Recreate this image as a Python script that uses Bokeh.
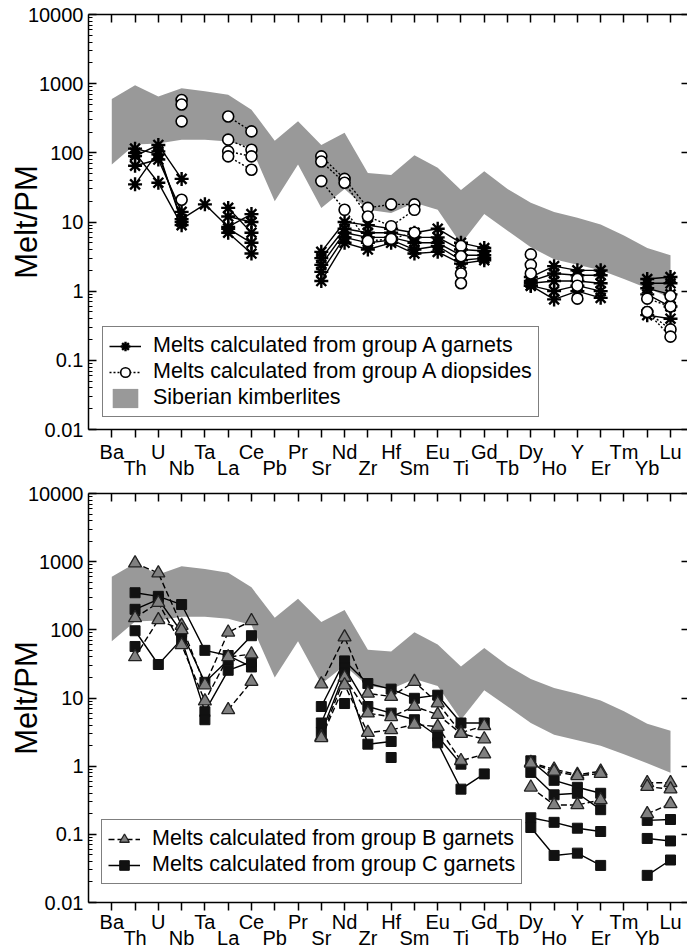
import math
from bokeh.plotting import figure
from bokeh.layouts import column
from bokeh.models import (Range1d, FixedTicker, LogAxis, LinearAxis, Legend,
                          LegendItem)
from bokeh.embed import file_html
from bokeh.resources import INLINE

N = float("nan")

elements = ["Ba", "Th", "U", "Nb", "Ta", "La", "Ce", "Pb", "Pr", "Sr", "Nd", "Zr",
            "Hf", "Sm", "Eu", "Ti", "Gd", "Tb", "Dy", "Ho", "Y", "Er", "Tm", "Yb", "Lu"]

# Siberian kimberlite field (upper / lower envelope)
kimb_upper = [600, 950, 650, 860, 780, 690, 420, 150, 285, 130, 195, 51, 48, 92, 61,
              29, 54, 30, 19, 14, 11.5, 9.2, 6.4, 4.2, 3.3]
kimb_lower = [68, 132, 137, 155, 155, 146, 118, 20, 68, 16, 30, 15, 13.5, 19, 15,
              4.8, 13, 7.5, 4.3, 2.9, 2.4, 2.0, 1.5, 1.1, 0.8]

# Top panel: melts from group A garnets
garnet_A1 = [N, 115, 95, 11, 18, 8.5, 13, N, N, 3.7, 10, 9, 8, 7, 8, 5, 4.2, N, 1.6, 2.3, 2.0, 2.0, N, 1.5, 1.6]
garnet_A2 = [N, 90, 130, 42, N, 12, 10, N, N, 3.0, 8, 7, 7, 6, 6, 4, 3.8, N, 1.4, 1.8, 1.7, 1.7, N, 1.3, 1.3]
garnet_A3 = [N, 65, 80, 14, N, 16, 7, N, N, 2.4, 7, 6, 6, 5, 5, 3.3, 3.3, N, 1.3, 1.4, 1.4, 1.3, N, 1.1, 0.9]
garnet_A4 = [N, 35, 105, 10, N, 8, 5, N, N, 1.9, 6, 5, 5.5, 4, 4.5, 2.8, 3.0, N, 1.2, 1.0, 1.2, 1.0, N, 0.9, 0.6]
garnet_A5 = [N, 100, 37, 9, N, 7, 3.5, N, N, 1.4, 5, 4, 5, 3.5, 3.7, 2.5, 2.8, N, 1.2, 0.76, 1.0, 0.8, N, 0.45, 0.4]

# Top panel: melts from group A diopsides
diop_A1 = [N, N, N, 580, N, 335, 204, N, N, 89, 42, 16, 18, 18, N, 4.5, N, N, 3.4, N, 1.5, N, N, 0.78, 0.6]
diop_A2 = [N, N, N, 500, N, 155, 111, N, N, 75, 37, 12, 8.7, 15, N, 3.2, N, N, 2.4, N, 1.2, N, N, 0.5, 0.28]
diop_A3 = [N, N, N, 285, N, 105, 89, N, N, 39, 15, 5.3, 5.7, 7, N, 1.8, N, N, 1.8, N, 0.78, N, N, 0.5, 0.22]
diop_A4 = [N, N, N, 21, N, 89, 57, N, N, N, N, N, N, N, N, 1.3, N, N, N, N, N, N, N, N, 0.85]

# Bottom panel: melts from group B garnets
garnet_B1 = [N, 950, 680, 115, 15.5, 92, 135, N, N, 16, 78, 11.7, 10.5, 17.4, 8.4, 3.1, 3.9, N, 1.13, 0.9, 0.75, 0.84, N, 0.57, 0.57]
garnet_B2 = [N, 150, 250, 60, 9, 40, 44, N, N, 2.7, 20, 6, 5.3, 7.5, 5.7, 3.0, 2.5, N, 1.1, 0.84, 0.72, 0.78, N, 0.5, 0.46]
garnet_B3 = [N, 40, 140, 100, N, 6.7, 17.4, N, N, 2.6, 15.5, 3.1, 3.4, 4.1, 3.8, 1.2, 1.5, N, 0.49, 0.27, 0.27, 0.32, N, 0.2, 0.28]

# Bottom panel: melts from group C garnets
garnet_C1 = [N, 350, 310, 235, 50, 42, 28.5, N, N, 7.5, 35, 16.3, 13.5, 9.9, 11, 4.3, 4.3, N, 1.2, 0.62, 0.49, 0.4, N, 0.16, 0.165]
garnet_C2 = [N, 200, 280, 93, 17, 36, 82, N, N, 4.3, 28, 7.5, 6, 4.8, 2.75, 1.07, N, N, 0.81, 0.38, 0.4, 0.23, N, N, N]
garnet_C3 = [N, 97, 31, 73, 6.3, 25.5, 34, N, N, 3.1, 23, 2.1, 2.3, N, 2.2, 0.46, 0.77, N, N, N, N, N, N, N, N]
garnet_C4 = [N, 57, N, N, 4.8, N, N, N, N, N, 8.3, N, 1.34, N, N, N, N, N, 0.175, 0.15, 0.123, 0.11, N, 0.087, 0.08]
garnet_C5 = [N, N, N, N, N, N, N, N, N, N, N, N, N, N, N, N, N, N, 0.126, 0.049, 0.053, 0.035, N, 0.025, 0.042]

decades = [0.01, 0.1, 1, 10, 100, 1000, 10000]
decade_labels = ["0.01", "0.1", "1", "10", "100", "1000", "10000"]

FONT = "Liberation Sans"
x_idx = list(range(len(elements)))
minor = [m * d for d in decades[:-1] for m in range(2, 10)]
x_labels = {i: (e if i % 2 == 0 else "\n" + e) for i, e in enumerate(elements)}


def make_panel(height, top_border, bottom_border, x_standoff):
    p = figure(width=687, height=height, y_axis_type="log",
               x_range=Range1d(-1, 24.73), y_range=Range1d(0.01, 10000),
               output_backend="svg", toolbar_location=None,
               min_border_left=88, min_border_right=0,
               min_border_top=top_border, min_border_bottom=bottom_border)
    p.outline_line_color = None
    p.grid.visible = False
    p.background_fill_color = "white"

    xa = p.xaxis[0]
    xa.ticker = FixedTicker(ticks=x_idx)
    xa.major_label_overrides = x_labels
    xa.major_tick_in = 0
    xa.major_tick_out = 8
    xa.minor_tick_line_color = None
    xa.major_label_standoff = x_standoff
    xa.major_label_text_font = FONT
    xa.major_label_text_font_size = "20px"
    xa.major_label_text_color = "black"
    xa.major_label_text_line_height = 0.76
    xa.axis_line_width = 1.5
    xa.major_tick_line_width = 1.5

    ya = p.yaxis[0]
    ya.ticker = FixedTicker(ticks=decades, minor_ticks=minor)
    ya.major_label_overrides = dict(zip(decades, decade_labels))
    ya.major_tick_in = 8
    ya.major_tick_out = 0
    ya.minor_tick_in = 4
    ya.minor_tick_out = 0
    ya.major_label_standoff = 5
    ya.major_label_text_font = FONT
    ya.major_label_text_font_size = "20px"
    ya.major_label_text_color = "black"
    ya.axis_label = "Melt/PM"
    ya.axis_label_text_font = FONT
    ya.axis_label_text_font_size = "31px"
    ya.axis_label_text_font_style = "normal"
    ya.axis_label_text_color = "black"
    ya.axis_label_standoff = -19
    ya.axis_line_width = 1.5
    ya.major_tick_line_width = 1.5
    ya.minor_tick_line_width = 1.2

    top = LinearAxis(ticker=FixedTicker(ticks=x_idx), major_label_text_font_size="1px",
                     major_label_text_color=None,
                     major_label_standoff=0, major_tick_in=8, major_tick_out=0,
                     minor_tick_line_color=None, axis_line_width=1.5,
                     major_tick_line_width=1.5)
    p.add_layout(top, "above")
    right = LogAxis(ticker=FixedTicker(ticks=decades), major_label_text_font_size="1px",
                    major_label_text_color=None,
                    major_label_standoff=0, major_tick_in=6, major_tick_out=0,
                    minor_tick_line_color=None, axis_line_color=None,
                    major_tick_line_width=1.5)
    p.add_layout(right, "right")

    p.varea(x=x_idx, y1=kimb_lower, y2=kimb_upper, fill_color="#999999")
    return p


def style_legend(p, items, loc):
    leg = Legend(items=items, location=loc)
    leg.border_line_color = "black"
    leg.border_line_width = 1.5
    leg.background_fill_color = "white"
    leg.background_fill_alpha = 1.0
    leg.label_text_font = FONT
    leg.label_text_font_size = "21.5px"
    leg.label_text_color = "black"
    leg.glyph_width = 32
    leg.glyph_height = 24
    leg.label_height = 24
    leg.padding = 6
    leg.spacing = 1
    leg.label_standoff = 12
    leg.margin = 0
    p.add_layout(leg)


# ---------------- top panel ----------------
p1 = make_panel(482, 14, 52, 3)
band1 = p1.renderers[-1]

g_lines, g_marks = [], []
for s in [garnet_A1, garnet_A2, garnet_A3, garnet_A4, garnet_A5]:
    g_lines.append(p1.line(x_idx, s, line_color="black", line_width=1.4))
d_lines = []
for s in [diop_A1, diop_A2, diop_A3, diop_A4]:
    d_lines.append(p1.line(x_idx, s, line_color="black", line_width=1.4, line_dash="2 2"))
for s in [garnet_A1, garnet_A2, garnet_A3, garnet_A4, garnet_A5]:
    g_marks.append(p1.scatter(x_idx, s, marker="asterisk", size=14, line_color="black",
                              line_width=2.4))
d_marks = []
for s in [diop_A1, diop_A2, diop_A3, diop_A4]:
    d_marks.append(p1.scatter(x_idx, s, marker="circle", size=11, fill_color="white",
                              line_color="black", line_width=1.6))

style_legend(p1, [
    LegendItem(label="Melts calculated from group A garnets", renderers=[g_lines[0], g_marks[0]]),
    LegendItem(label="Melts calculated from group A diopsides", renderers=[d_lines[0], d_marks[0]]),
    LegendItem(label="Siberian kimberlites", renderers=[band1]),
], (14, 12))

# ---------------- bottom panel ----------------
p2 = make_panel(470, 11, 49, 0)

b_lines, c_lines = [], []
for s in [garnet_C1, garnet_C2, garnet_C3, garnet_C4, garnet_C5]:
    c_lines.append(p2.line(x_idx, s, line_color="black", line_width=1.4))
for s in [garnet_B1, garnet_B2, garnet_B3]:
    b_lines.append(p2.line(x_idx, s, line_color="black", line_width=1.4, line_dash="6 3"))
c_marks, b_marks = [], []
for s in [garnet_C1, garnet_C2, garnet_C3, garnet_C4, garnet_C5]:
    c_marks.append(p2.scatter(x_idx, s, marker="square", size=10, fill_color="#111111",
                              line_color="#111111", line_width=1))
for s in [garnet_B1, garnet_B2, garnet_B3]:
    b_marks.append(p2.scatter(x_idx, s, marker="triangle", size=13, fill_color="#808080",
                              line_color="#222222", line_width=1.3))

style_legend(p2, [
    LegendItem(label="Melts calculated from group B garnets", renderers=[b_lines[0], b_marks[0]]),
    LegendItem(label="Melts calculated from group C garnets", renderers=[c_lines[0], c_marks[0]]),
], (13, 18))

layout = column(p1, p2, spacing=0)
open("out.html", "w").write(file_html(layout, INLINE))
